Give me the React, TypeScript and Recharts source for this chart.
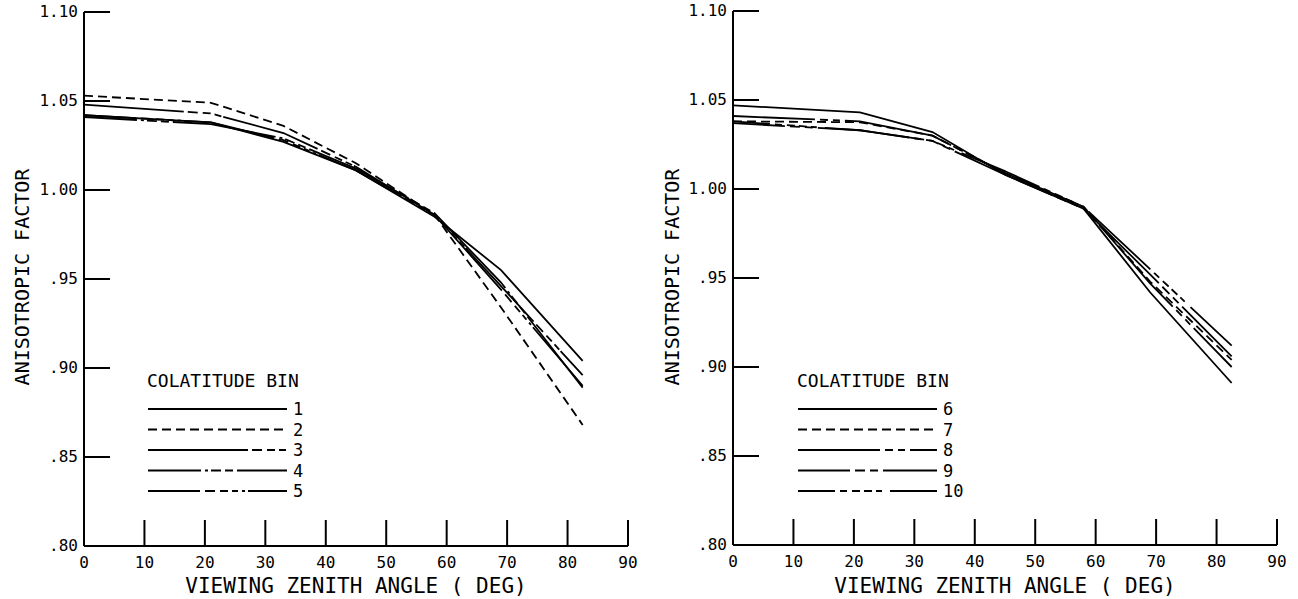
import { LineChart, Line, XAxis, YAxis } from "recharts";

const FONT = "'DejaVu Sans Mono', 'Liberation Mono', monospace";

// viewing zenith angles (deg) where the curves are plotted
const ANGLES = [0, 21, 33, 45, 58, 69, 82.5];

// anisotropic factor per colatitude bin
const BIN_1 = [1.042, 1.038, 1.027, 1.011, 0.985, 0.955, 0.904];
const BIN_2 = [1.053, 1.049, 1.036, 1.015, 0.986, 0.934, 0.868];
const BIN_3 = [1.048, 1.043, 1.032, 1.013, 0.986, 0.946, 0.896];
const BIN_4 = [1.041, 1.037, 1.029, 1.012, 0.987, 0.948, 0.889];
const BIN_5 = [1.042, 1.038, 1.028, 1.011, 0.986, 0.944, 0.890];

const BIN_6 = [1.047, 1.043, 1.032, 1.008, 0.989, 0.942, 0.891];
const BIN_7 = [1.038, 1.0375, 1.030, 1.009, 0.990, 0.948, 0.904];
const BIN_8 = [1.041, 1.038, 1.030, 1.009, 0.990, 0.947, 0.900];
const BIN_9 = [1.037, 1.033, 1.027, 1.008, 0.989, 0.952, 0.906];
const BIN_10 = [1.038, 1.033, 1.027, 1.010, 0.990, 0.955, 0.912];

const LEFT_BINS = ["1", "2", "3", "4", "5"];
const RIGHT_BINS = ["6", "7", "8", "9", "10"];

const X_TICKS = [0, 10, 20, 30, 40, 50, 60, 70, 80, 90];
const Y_TICKS = [0.8, 0.85, 0.9, 0.95, 1.0, 1.05, 1.1];

const LEFT_DASH = [undefined, "9 5", "100 4 10 5 8 4 7 2", "53 4 3 3 10 4 8 4 51 0", "52 5 10 5 8 4 6 4 3 3 40 0"];
const RIGHT_DASH = [undefined, "9 5", "82 5 8 5 7 5 28 0", "52 5 10 5 8 5 55 0", "37 5 7 5 8 4 8 4 6 8 48 0"];

function buildRows(series: number[][]) {
  return ANGLES.map((a, i) => {
    const row: Record<string, number> = { angle: a };
    series.forEach((s, k) => {
      row["b" + k] = s[i];
    });
    return row;
  });
}

const leftData = buildRows([BIN_1, BIN_2, BIN_3, BIN_4, BIN_5]);
const rightData = buildRows([BIN_6, BIN_7, BIN_8, BIN_9, BIN_10]);

const fmtY = (v: number) => (v >= 1 ? v.toFixed(2) : v.toFixed(2).slice(1));

const YTick = (props: any) => {
  const { x, y, payload } = props;
  return (
    <g>
      {payload.value > 0.81 && <line x1={x} y1={y} x2={x + 26} y2={y} stroke="#000" strokeWidth={2} />}
      <text x={x - 6} y={y} dy={5} textAnchor="end" fontSize={16} fontFamily={FONT} fill="#000">
        {fmtY(payload.value)}
      </text>
    </g>
  );
};

const XTick = (props: any) => {
  const { x, y, payload } = props;
  return (
    <g>
      {payload.value > 0 && <line x1={x} y1={y} x2={x} y2={y - 26} stroke="#000" strokeWidth={2} />}
      <text x={x} y={y} dy={22} textAnchor="middle" fontSize={16} fontFamily={FONT} fill="#000">
        {payload.value}
      </text>
    </g>
  );
};

function Panel({ left, width, axisW, rightM, top, bottom, data, bins, dashes }: any) {
  const plotL = axisW;
  const plotR = width - rightM;
  return (
    <div style={{ position: "absolute", left, top: 0, width, height: 599 }}>
      <LineChart width={width} height={599} data={data} margin={{ top, right: rightM, bottom: 0, left: 0 }}>
        <XAxis
          dataKey="angle"
          type="number"
          domain={[0, 90]}
          ticks={X_TICKS}
          interval={0}
          height={bottom}
          tickSize={0}
          tickMargin={0}
          tickLine={false}
          tick={<XTick />}
          axisLine={{ stroke: "#000", strokeWidth: 2 }}
        />
        <YAxis
          type="number"
          domain={[0.8, 1.1]}
          ticks={Y_TICKS}
          interval={0}
          width={axisW}
          tickSize={0}
          tickMargin={0}
          tickLine={false}
          tick={<YTick />}
          axisLine={{ stroke: "#000", strokeWidth: 2 }}
        />
        {bins.map((b: string, k: number) => (
          <Line
            key={b}
            dataKey={"b" + k}
            name={b}
            type="linear"
            stroke="#000"
            strokeWidth={1.8}
            strokeDasharray={dashes[k]}
            dot={false}
            isAnimationActive={false}
          />
        ))}
      </LineChart>
      <div
        style={{
          position: "absolute",
          left: 22,
          top: 277,
          transform: "translate(-50%, -50%) rotate(-90deg)",
          whiteSpace: "nowrap",
          lineHeight: 1,
          fontFamily: FONT,
          fontSize: 20,
          color: "#000",
        }}
      >
        ANISOTROPIC FACTOR
      </div>
      <div
        style={{
          position: "absolute",
          left: (plotL + plotR) / 2,
          top: 586,
          transform: "translate(-50%, -50%)",
          whiteSpace: "nowrap",
          lineHeight: 1,
          fontFamily: FONT,
          fontSize: 21,
          color: "#000",
        }}
      >
        VIEWING ZENITH ANGLE ( DEG)
      </div>
      <svg style={{ position: "absolute", left: 146, top: 365 }} width={190} height={140}>
        <text x={1} y={22} fontSize={18} fontFamily={FONT} fill="#000">
          COLATITUDE BIN
        </text>
        {bins.map((b: string, k: number) => {
          const ly = 44 + k * 20.5;
          return (
            <g key={b}>
              <line x1={2} y1={ly} x2={141} y2={ly} stroke="#000" strokeWidth={1.8} strokeDasharray={dashes[k]} />
              <text x={147} y={ly + 6} fontSize={17} fontFamily={FONT} fill="#000">
                {b}
              </text>
            </g>
          );
        })}
      </svg>
    </div>
  );
}

export default function App() {
  return (
    <div style={{ position: "absolute", left: 0, top: 0, width: 1298, height: 599, background: "#fff" }}>
      <Panel left={0} width={650} axisW={84} rightM={22} top={12} bottom={53} data={leftData} bins={LEFT_BINS} dashes={LEFT_DASH} />
      <Panel left={650} width={648} axisW={83} rightM={21} top={11} bottom={54} data={rightData} bins={RIGHT_BINS} dashes={RIGHT_DASH} />
    </div>
  );
}
